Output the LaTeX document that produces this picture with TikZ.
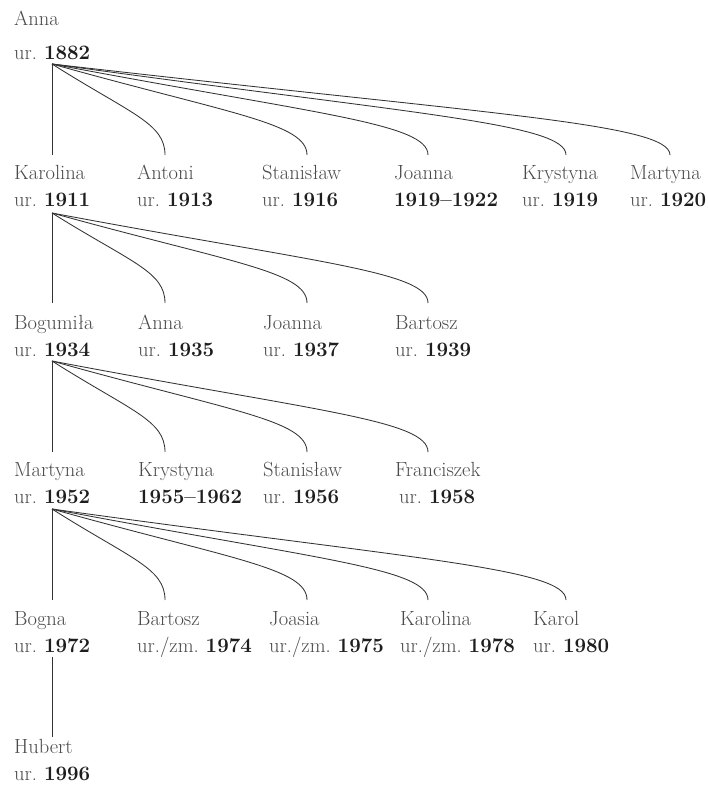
\documentclass[tikz,border=0pt]{standalone}
\usetikzlibrary{calc}
\definecolor{namecol}{HTML}{4A4A4A}
\definecolor{yearcol}{HTML}{1E1E1E}
\definecolor{linecol}{HTML}{333333}
\newcommand\yr[1]{\textbf{\color{yearcol}#1}}
\newcommand\urr{ur.\hspace{0.34em}}
\newcommand\urzm{ur./zm.\hspace{0.34em}}
\newcommand\kidline[2]{\draw[famline] let \p1=(#1), \p2=(#2) in (\p1) .. controls ({\x1+0.7*\x2-0.7*\x1},{\y1+0.55*\y2-0.55*\y1}) and ({\x2},{\y2+0.35*\y1-0.35*\y2}) .. (\p2);}
\tikzset{
  person/.style={anchor=base west, inner sep=0pt, font=\fontsize{20.5}{24}\selectfont, text=namecol},
  famline/.style={draw=linecol, line width=0.85pt},
}
\begin{document}
\begin{tikzpicture}[x=1pt,y=-1pt]
\useasboundingbox[fill=white] (0,0) rectangle (708,786);
% generation 0
\node[person] (anna0) at (14,26) {Anna};
\node[person] (anna0y) at (14,60) {\urr\yr{1882}};
\coordinate (anna0d) at (52,64);
% generation 1
\node[person] (karolina1) at (14,180) {Karolina};
\node[person] (karolina1y) at (14,207) {\urr\yr{1911}};
\node[person] (antoni1) at (137,180) {Antoni};
\node[person] (antoni1y) at (137,207) {\urr\yr{1913}};
\node[person] (stan1) at (262,180) {Stanisław};
\node[person] (stan1y) at (262,207) {\urr\yr{1916}};
\node[person] (joanna1) at (394,180) {Joanna};
\node[person] (joanna1y) at (394,207) {\yr{1919–1922}};
\node[person] (kryst1) at (522,180) {Krystyna};
\node[person] (kryst1y) at (522,207) {\urr\yr{1919}};
\node[person] (mart1) at (630,180) {Martyna};
\node[person] (mart1y) at (630,207) {\urr\yr{1920}};
\coordinate (karolina1u) at (52,155);
\coordinate (antoni1u) at (165,155);
\coordinate (stan1u) at (307,155);
\coordinate (joanna1u) at (428,155);
\coordinate (kryst1u) at (566,155);
\coordinate (mart1u) at (670,155);
\coordinate (karolina1d) at (52,213);
\draw[famline] (anna0d) -- (karolina1u);
\kidline{anna0d}{antoni1u}
\kidline{anna0d}{stan1u}
\kidline{anna0d}{joanna1u}
\kidline{anna0d}{kryst1u}
\kidline{anna0d}{mart1u}
% generation 2
\node[person] (bog2) at (14,329) {Bogumiła};
\node[person] (bog2y) at (14,356) {\urr\yr{1934}};
\node[person] (anna2) at (138,329) {Anna};
\node[person] (anna2y) at (138,356) {\urr\yr{1935}};
\node[person] (joanna2) at (263,329) {Joanna};
\node[person] (joanna2y) at (263,356) {\urr\yr{1937}};
\node[person] (bart2) at (395,329) {Bartosz};
\node[person] (bart2y) at (395,356) {\urr\yr{1939}};
\coordinate (bog2u) at (52,303);
\coordinate (anna2u) at (165,303);
\coordinate (joanna2u) at (307,303);
\coordinate (bart2u) at (428,303);
\coordinate (bog2d) at (52,361);
\draw[famline] (karolina1d) -- (bog2u);
\kidline{karolina1d}{anna2u}
\kidline{karolina1d}{joanna2u}
\kidline{karolina1d}{bart2u}
% generation 3
\node[person] (mart3) at (14,476) {Martyna};
\node[person] (mart3y) at (14,503) {\urr\yr{1952}};
\node[person] (kryst3) at (138,476) {Krystyna};
\node[person] (kryst3y) at (138,503) {\yr{1955–1962}};
\node[person] (stan3) at (263,476) {Stanisław};
\node[person] (stan3y) at (263,503) {\urr\yr{1956}};
\node[person] (fran3) at (395,476) {Franciszek};
\node[person] (fran3y) at (399,503) {\urr\yr{1958}};
\coordinate (mart3u) at (52,452);
\coordinate (kryst3u) at (165,452);
\coordinate (stan3u) at (307,452);
\coordinate (fran3u) at (428,452);
\coordinate (mart3d) at (52,509);
\draw[famline] (bog2d) -- (mart3u);
\kidline{bog2d}{kryst3u}
\kidline{bog2d}{stan3u}
\kidline{bog2d}{fran3u}
% generation 4
\node[person] (bogna4) at (14,625) {Bogna};
\node[person] (bogna4y) at (14,652) {\urr\yr{1972}};
\node[person] (bart4) at (137,625) {Bartosz};
\node[person] (bart4y) at (137,652) {\urzm\yr{1974}};
\node[person] (joasia4) at (269,625) {Joasia};
\node[person] (joasia4y) at (269,652) {\urzm\yr{1975}};
\node[person] (karolina4) at (400,625) {Karolina};
\node[person] (karolina4y) at (400,652) {\urzm\yr{1978}};
\node[person] (karol4) at (533,625) {Karol};
\node[person] (karol4y) at (533,652) {\urr\yr{1980}};
\coordinate (bogna4u) at (52,600);
\coordinate (bart4u) at (165,600);
\coordinate (joasia4u) at (307,600);
\coordinate (karolina4u) at (428,600);
\coordinate (karol4u) at (566,600);
\coordinate (bogna4d) at (52,657);
\draw[famline] (mart3d) -- (bogna4u);
\kidline{mart3d}{bart4u}
\kidline{mart3d}{joasia4u}
\kidline{mart3d}{karolina4u}
\kidline{mart3d}{karol4u}
% generation 5
\node[person] (hub5) at (14,753) {Hubert};
\node[person] (hub5y) at (14,780) {\urr\yr{1996}};
\coordinate (hub5u) at (52,737);
\draw[famline] (bogna4d) -- (hub5u);
\end{tikzpicture}
\end{document}
